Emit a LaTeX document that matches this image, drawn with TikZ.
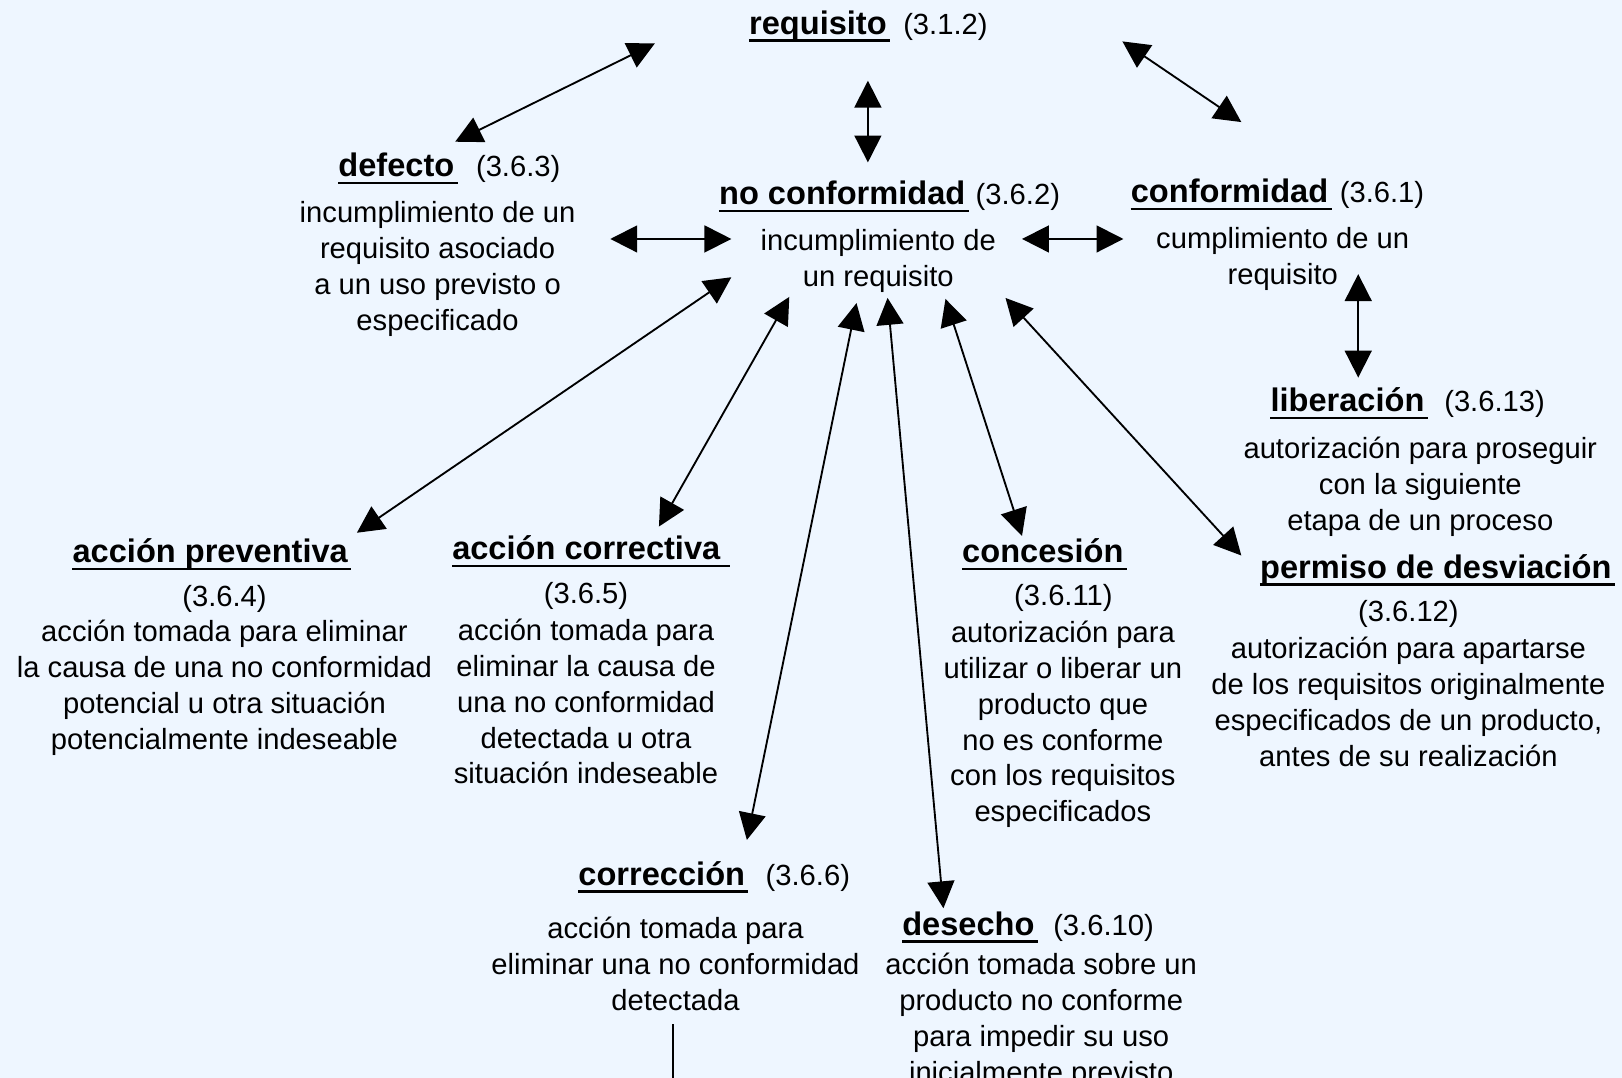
\documentclass[tikz,border=0pt]{standalone}
\usepackage{fontspec}
\setmainfont{Liberation Sans}
\usetikzlibrary{arrows.meta}
\definecolor{paper}{RGB}{238,246,255}

\tikzset{
  x=1pt, y=-1pt,
  body/.style={anchor=base, inner sep=0pt, font=\fontsize{28.2}{34.7}\selectfont},
  num/.style={anchor=base west, inner sep=0pt, font=\fontsize{28.2}{34.7}\selectfont},
  numc/.style={anchor=base, inner sep=0pt, font=\fontsize{28.2}{34.7}\selectfont},
  term/.style={anchor=base west, inner sep=0pt, font=\fontsize{31.5}{36}\selectfont\bfseries},
  uline/.style={line width=2.4pt},
  link/.style={line width=1.8pt, {Triangle[length=26pt,width=26pt]}-{Triangle[length=26pt,width=26pt]}},
  plain/.style={line width=1.8pt},
}

% underline a term node, optionally running a little past its end
\newcommand{\termline}[2][3pt]{%
  \draw[uline] ([yshift=-6pt]#2.base west) -- ([xshift=#1,yshift=-6pt]#2.base east);}

\begin{document}
\begin{tikzpicture}
\clip (0,0) rectangle (1568,1042);
\fill[paper] (0,0) rectangle (1568,1042);

% ---- requisito
\node[term] (req) at (724,33) {requisito};
\node[num] (req-n) at (873,33) {(3.1.2)};
\termline{req}

% ---- defecto
\node[term] (def) at (327,171) {defecto};
\node[num] (def-n) at (460,171) {(3.6.3)};
\termline{def}
\foreach \t [count=\i from 0] in {incumplimiento de un, requisito asociado, a un uso previsto o, especificado}
  \node[body] (def-b\i) at (423,215+34.7*\i) {\t};

% ---- no conformidad
\node[term] (nc) at (695,198) {no conformidad};
\node[num] (nc-n) at (943,198) {(3.6.2)};
\termline{nc}
\foreach \t [count=\i from 0] in {incumplimiento de, un requisito}
  \node[body] (nc-b\i) at (849,242+34.7*\i) {\t};

% ---- conformidad
\node[term] (conf) at (1093,196) {conformidad};
\node[num] (conf-n) at (1295,196) {(3.6.1)};
\termline{conf}
\foreach \t [count=\i from 0] in {cumplimiento de un, requisito}
  \node[body] (conf-b\i) at (1240,240+34.7*\i) {\t};

% ---- liberación
\node[term] (lib) at (1228,398) {liberación};
\node[num] (lib-n) at (1396,398) {(3.6.13)};
\termline{lib}
\foreach \t [count=\i from 0] in {autorización para proseguir, con la siguiente, etapa de un proceso}
  \node[body] (lib-b\i) at (1373,443+34.7*\i) {\t};

% ---- permiso de desviación
\node[term] (perm) at (1218,559) {permiso de desviación};
\termline{perm}
\node[numc] (perm-n) at (1361.5,601) {(3.6.12)};
\foreach \t [count=\i from 0] in {autorización para apartarse, de los requisitos originalmente, {especificados de un producto,}, antes de su realización}
  \node[body] (perm-b\i) at (1361.5,637+34.7*\i) {\t};

% ---- acción preventiva
\node[term] (ap) at (70,544) {acción preventiva};
\termline{ap}
\node[numc] (ap-n) at (217,586) {(3.6.4)};
\foreach \t [count=\i from 0] in {acción tomada para eliminar, la causa de una no conformidad, potencial u otra situación, potencialmente indeseable}
  \node[body] (ap-b\i) at (217,620+34.7*\i) {\t};

% ---- acción correctiva
\node[term] (ac) at (437,541) {acción correctiva};
\termline[9pt]{ac}
\node[numc] (ac-n) at (566.5,583) {(3.6.5)};
\foreach \t [count=\i from 0] in {acción tomada para, eliminar la causa de, una no conformidad, detectada u otra, situación indeseable}
  \node[body] (ac-b\i) at (566.5,619+34.7*\i) {\t};

% ---- concesión
\node[term] (conc) at (930,544) {concesión};
\termline{conc}
\node[numc] (conc-n) at (1028,585) {(3.6.11)};
\foreach \t [count=\i from 0] in {autorización para, utilizar o liberar un, producto que, no es conforme, con los requisitos, especificados}
  \node[body] (conc-b\i) at (1027.5,621+34.7*\i) {\t};

% ---- corrección
\node[term] (corr) at (559,856) {corrección};
\node[num] (corr-n) at (740,856) {(3.6.6)};
\termline{corr}
\foreach \t [count=\i from 0] in {acción tomada para, eliminar una no conformidad, detectada}
  \node[body] (corr-b\i) at (653,907+34.7*\i) {\t};

% ---- desecho
\node[term] (des) at (872,904) {desecho};
\node[num] (des-n) at (1018,904) {(3.6.10)};
\termline{des}
\foreach \t [count=\i from 0] in {acción tomada sobre un, producto no conforme, para impedir su uso, inicialmente previsto}
  \node[body] (des-b\i) at (1006.5,942+34.7*\i) {\t};

% ---- connector end points
\coordinate (req-sw)  at (633,42);
\coordinate (def-ne)  at (440,137);
\coordinate (req-s)   at (839,78);
\coordinate (nc-n0)   at (839,157);
\coordinate (req-se)  at (1085,40);
\coordinate (conf-nw) at (1200,118);
\coordinate (def-e)   at (590,231);
\coordinate (nc-w)    at (707,231);
\coordinate (nc-e)    at (988,231);
\coordinate (conf-w)  at (1086,231);
\coordinate (conf-s)  at (1313,265);
\coordinate (lib-nn)  at (1313,365);
\coordinate (nc-s1)   at (707,268);
\coordinate (ap-ne)   at (345,515);
\coordinate (nc-s2)   at (763,287);
\coordinate (ac-ne)   at (637,509);
\coordinate (nc-s3)   at (828,293);
\coordinate (corr-nn) at (722,812);
\coordinate (nc-s4)   at (858,288);
\coordinate (des-nn)  at (912,878);
\coordinate (nc-s5)   at (914,289);
\coordinate (conc-nn) at (988,518);
\coordinate (nc-s6)   at (972,288);
\coordinate (perm-nw) at (1200,537);
\coordinate (corr-s)  at (651,990);
\coordinate (bottom)  at (651,1042);

% ---- connectors
\draw[link] (req-sw) -- (def-ne);
\draw[link] (req-s) -- (nc-n0);
\draw[link] (req-se) -- (conf-nw);
\draw[link] (def-e) -- (nc-w);
\draw[link] (nc-e) -- (conf-w);
\draw[link] (conf-s) -- (lib-nn);
\draw[link] (nc-s1) -- (ap-ne);
\draw[link] (nc-s2) -- (ac-ne);
\draw[link] (nc-s3) -- (corr-nn);
\draw[link] (nc-s4) -- (des-nn);
\draw[link] (nc-s5) -- (conc-nn);
\draw[link] (nc-s6) -- (perm-nw);
\draw[plain] (corr-s) -- (bottom);
\end{tikzpicture}
\end{document}
